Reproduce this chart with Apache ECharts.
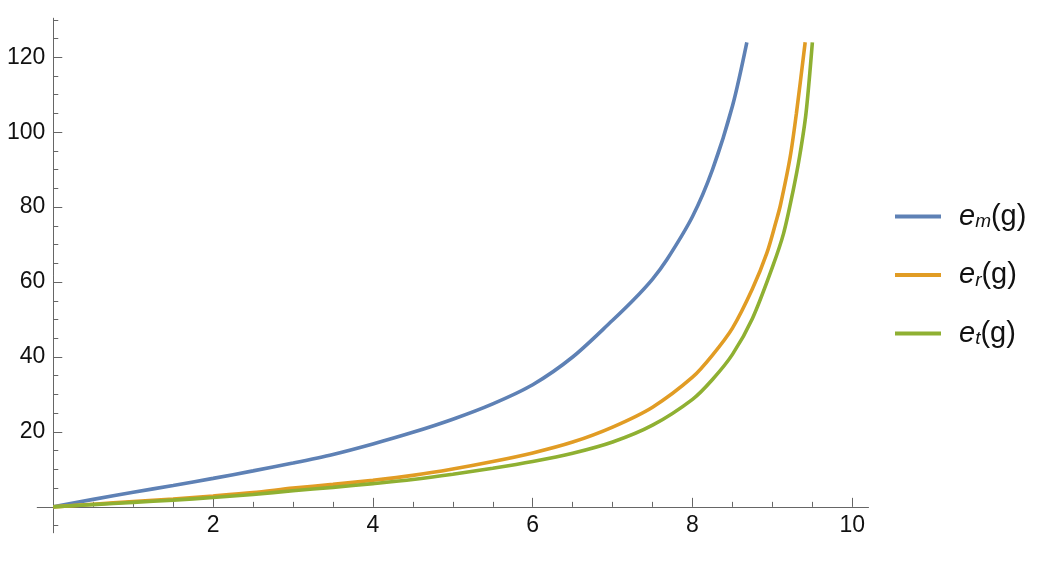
<!DOCTYPE html>
<html>
<head>
<meta charset="utf-8">
<script src="https://cdn.jsdelivr.net/npm/echarts@6/dist/echarts.min.js"></script>
<style>html,body{margin:0;padding:0;background:#fff;}#c{width:1060px;height:564px;}</style>
</head>
<body>
<div id="c"></div>
<script>
// ---- data ----
const seriesNames = ['e_m(g)', 'e_r(g)', 'e_t(g)'];
const subscripts = ['m', 'r', 't'];

const emPoints = [
  [0,0],[0.5,2.0],[1,3.9],[1.5,5.7],[2,7.6],[2.5,9.6],[3,11.7],[3.5,14.0],[4,16.8],
  [4.5,19.9],[5,23.4],[5.5,27.5],[6,32.6],[6.5,40.0],[7,49.8],[7.26,55.2],[7.5,60.8],
  [7.68,66.0],[8,77.5],[8.25,90.0],[8.5,107.0],[8.68,124]
];
const erPoints = [
  [0,0],[0.5,0.7],[1,1.4],[1.5,2.1],[2,2.9],[2.5,3.8],[3,5.0],[3.5,6.0],[4,7.1],
  [4.5,8.4],[5,10.1],[5.5,12.1],[6,14.4],[6.5,17.3],[7,21.3],[7.5,26.6],[8,34.6],
  [8.25,40.5],[8.5,47.7],[8.75,58.2],[8.93,67.7],[9.05,76.5],[9.1,80.5],[9.22,93.1],
  [9.3,105],[9.41,124]
];
const etPoints = [
  [0,0],[0.5,0.6],[1,1.2],[1.5,1.8],[2,2.5],[2.5,3.3],[3,4.3],[3.5,5.2],[4,6.2],
  [4.5,7.3],[5,8.7],[5.5,10.3],[6,12.1],[6.5,14.3],[7,17.3],[7.5,21.8],[8,28.7],
  [8.25,34.0],[8.5,40.7],[8.75,50.3],[9,64.0],[9.14,73.0],[9.26,84.5],[9.34,93.5],
  [9.42,105],[9.5,124]
];

const xMajorTicks = [2, 4, 6, 8, 10];
const xMinorTicks = [0.5, 1, 1.5, 2.5, 3, 3.5, 4.5, 5, 5.5, 6.5, 7, 7.5, 8.5, 9, 9.5];
const yMajorTicks = [20, 40, 60, 80, 100, 120];
const yMinorTicks = [-5, 5, 10, 15, 25, 30, 35, 45, 50, 55, 65, 70, 75, 85, 90, 95, 105, 110, 115, 125, 130];

const colors = ['#5E81B5', '#E19C24', '#8FB032'];
// ----------------------------------------------

const FONT = '"Liberation Sans", Arial, sans-serif';
const axisColor = '#666';
const X_MIN = -0.2, X_MAX = 10.2, Y_MIN = -6.9, Y_MAX = 130.4;

function xAxisDef(ticks, labels, len) {
  return {
    type: 'value', min: X_MIN, max: X_MAX, position: 'bottom',
    axisLine: { show: true, onZero: true, onZeroAxisIndex: 0, lineStyle: { color: axisColor, width: 1 } },
    axisTick: { show: true, inside: true, length: len, customValues: ticks, lineStyle: { color: axisColor } },
    axisLabel: labels ? { show: true, customValues: labels, margin: -19, fontSize: 23, fontFamily: FONT, color: '#111' } : { show: false },
    splitLine: { show: false }, minorTick: { show: false }
  };
}
function yAxisDef(ticks, labels, len) {
  return {
    type: 'value', min: Y_MIN, max: Y_MAX, position: 'left',
    axisLine: { show: true, onZero: true, onZeroAxisIndex: 0, lineStyle: { color: axisColor, width: 1 } },
    axisTick: { show: true, inside: true, length: len, customValues: ticks, lineStyle: { color: axisColor } },
    axisLabel: labels ? { show: true, customValues: labels, margin: -8, fontSize: 23, fontFamily: FONT, color: '#111' } : { show: false },
    splitLine: { show: false }, minorTick: { show: false }
  };
}

const pointSets = [emPoints, erPoints, etPoints];
const series = seriesNames.map((n, i) => ({
  name: n, type: 'line', data: pointSets[i], xAxisIndex: 0, yAxisIndex: 0,
  showSymbol: false, smooth: 0.3,
  lineStyle: { color: colors[i], width: 3.6 }, itemStyle: { color: colors[i] },
  emphasis: { disabled: true }, animation: false
}));

const chart = echarts.init(document.getElementById('c'), null, { renderer: 'canvas' });
chart.setOption({
  animation: false,
  backgroundColor: '#fff',
  grid: { left: 37.3, right: 191.7, top: 18.3, bottom: 31.3, containLabel: false, outerBoundsMode: 'none' },
  xAxis: [xAxisDef(xMajorTicks, xMajorTicks, 9), xAxisDef(xMinorTicks, null, 5)],
  yAxis: [yAxisDef(yMajorTicks, yMajorTicks, 9), yAxisDef(yMinorTicks, null, 5)],
  legend: {
    orient: 'vertical', left: 895, top: 202, itemGap: 29, padding: 0,
    icon: 'rect', itemWidth: 46, itemHeight: 4,
    selectedMode: false,
    data: seriesNames,
    formatter: function (name) {
      const i = seriesNames.indexOf(name);
      return '{sp| }{e|e}{s|' + subscripts[i] + '}{n|(g)}';
    },
    textStyle: {
      fontFamily: FONT, color: '#111',
      rich: {
        sp: { width: 13, fontSize: 29, lineHeight: 30 },
        e: { fontSize: 29, fontStyle: 'italic', lineHeight: 30, fontFamily: FONT, color: '#111' },
        s: { fontSize: 19, fontStyle: 'italic', lineHeight: 14, verticalAlign: 'bottom', fontFamily: FONT, color: '#111' },
        n: { fontSize: 29, lineHeight: 30, fontFamily: FONT, color: '#111' }
      }
    }
  },
  series: series
});
</script>
</body>
</html>
